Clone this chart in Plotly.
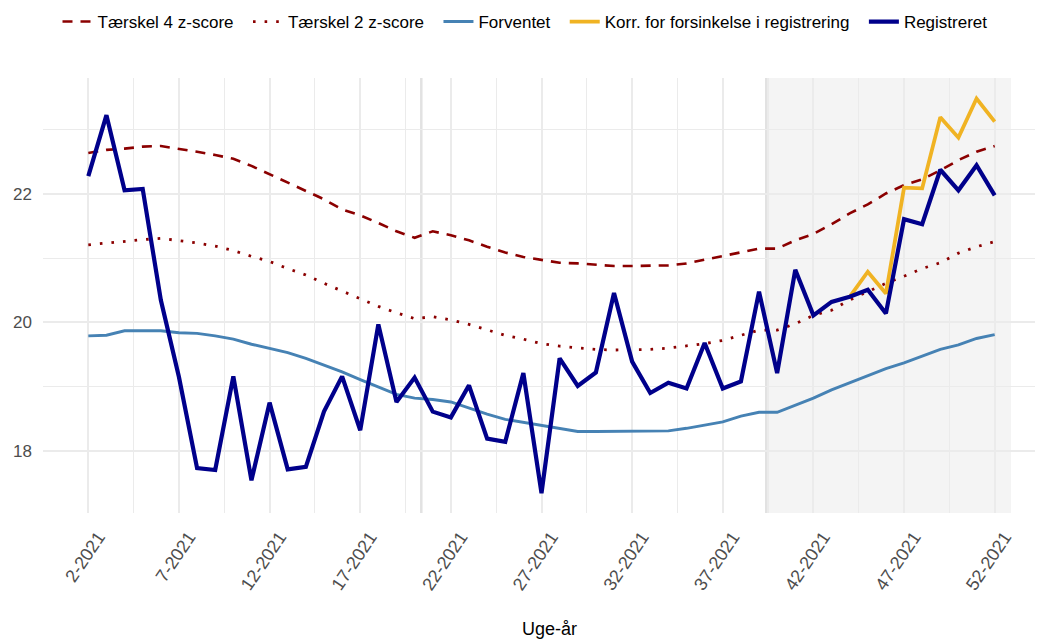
import plotly.graph_objects as go

weeks = list(range(2, 53))
tick_weeks = [2, 7, 12, 17, 22, 27, 32, 37, 42, 47, 52]
tick_labels = [f"{w}-2021" for w in tick_weeks]
minor_weeks = [-0.5, 4.5, 9.5, 14.5, 19.5, 24.5, 29.5, 34.5, 39.5, 44.5, 49.5, 54.5]

registreret = [
    22.28, 23.23, 22.06, 22.08, 20.35, 19.15, 17.73, 17.70, 19.16, 17.54,
    18.75, 17.71, 17.75, 18.61, 19.16, 18.32, 19.97, 18.76, 19.14, 18.61,
    18.52, 19.02, 18.19, 18.14, 19.21, 17.34, 19.44, 19.01, 19.22, 20.46,
    19.39, 18.90, 19.06, 18.97, 19.68, 18.97, 19.08, 20.48, 19.21, 20.82,
    20.11, 20.32, 20.40, 20.51, 20.14, 21.61, 21.53, 22.38, 22.06, 22.45,
    21.98,
]

korr_weeks = [44, 45, 46, 47, 48, 49, 50, 51, 52]
korr = [20.40, 20.79, 20.45, 22.10, 22.09, 23.20, 22.88, 23.49, 23.13]

forventet = [
    19.79, 19.80, 19.87, 19.87, 19.87, 19.84, 19.83, 19.79, 19.74, 19.66,
    19.60, 19.53, 19.44, 19.34, 19.23, 19.11, 18.99, 18.88, 18.82, 18.80,
    18.76, 18.66, 18.57, 18.49, 18.44, 18.40, 18.35, 18.30, 18.30, 18.30,
    18.30, 18.30, 18.31, 18.35, 18.40, 18.45, 18.54, 18.60, 18.60, 18.71,
    18.82, 18.95, 19.06, 19.16, 19.28, 19.37, 19.48, 19.58, 19.65, 19.75,
    19.81,
]

taerskel4 = [
    22.64, 22.69, 22.71, 22.74, 22.75, 22.71, 22.66, 22.61, 22.55, 22.44,
    22.31, 22.19, 22.05, 21.92, 21.76, 21.67, 21.55, 21.42, 21.32, 21.42,
    21.36, 21.28, 21.18, 21.09, 21.02, 20.98, 20.93, 20.92, 20.90, 20.88,
    20.88, 20.88, 20.89, 20.92, 20.98, 21.03, 21.09, 21.15, 21.15, 21.28,
    21.38, 21.53, 21.70, 21.84, 22.01, 22.14, 22.23, 22.37, 22.53, 22.66,
    22.75,
]

taerskel2 = [
    21.21, 21.24, 21.27, 21.29, 21.31, 21.28, 21.24, 21.19, 21.12, 21.03,
    20.95, 20.84, 20.74, 20.61, 20.49, 20.37, 20.25, 20.15, 20.06, 20.09,
    20.04, 19.97, 19.88, 19.80, 19.74, 19.67, 19.63, 19.60, 19.58, 19.57,
    19.57, 19.58, 19.60, 19.63, 19.67, 19.72, 19.80, 19.88, 19.88, 19.98,
    20.11, 20.19, 20.35, 20.48, 20.61, 20.72, 20.84, 20.93, 21.08, 21.18,
    21.26,
]

shade_start, shade_end = 39.4, 52.9
marker_week = 20.37

FONT = "Liberation Sans, Arial, sans-serif"
GRID = "#ebebeb"
PAD = "\u00a0\u00a0"

# the page adds an 8px body margin; size/margins compensate for it
W, H = 1035, 636

fig = go.Figure()
fig.add_trace(go.Scatter(x=weeks, y=taerskel4, mode="lines", name="Tærskel 4 z-score" + PAD,
                         line=dict(color="#8B0000", width=2.6, dash="10px,8px")))
fig.add_trace(go.Scatter(x=weeks, y=taerskel2, mode="lines", name="Tærskel 2 z-score" + PAD,
                         line=dict(color="#8B0000", width=2.8, dash="2.6px,9px")))
fig.add_trace(go.Scatter(x=weeks, y=forventet, mode="lines", name="Forventet" + PAD,
                         line=dict(color="#4682B4", width=2.9)))
fig.add_trace(go.Scatter(x=korr_weeks, y=korr, mode="lines",
                         name="Korr. for forsinkelse i registrering" + PAD,
                         line=dict(color="#F0B323", width=3.8)))
fig.add_trace(go.Scatter(x=weeks, y=registreret, mode="lines", name="Registreret",
                         line=dict(color="#00008B", width=4.2)))

fig.add_shape(type="rect", xref="x", yref="paper", x0=shade_start, x1=shade_end,
              y0=0, y1=1, fillcolor="#f4f4f4", line=dict(width=0), layer="below")
for xv in (marker_week, shade_start):
    fig.add_shape(type="line", xref="x", yref="paper", x0=xv, x1=xv, y0=0, y1=1,
                  line=dict(color="#e2e2e2", width=2.5), layer="below")

fig.add_annotation(text="Uge-år", xref="paper", yref="paper", x=0.508, y=-0.267,
                   xanchor="center", yanchor="middle", showarrow=False,
                   font=dict(family=FONT, size=18, color="#000000"))

fig.update_layout(
    width=W, height=H,
    margin=dict(l=35, r=3, t=70, b=131, autoexpand=False),
    paper_bgcolor="white", plot_bgcolor="white",
    font=dict(family=FONT, color="#000000"),
    showlegend=True,
    legend=dict(orientation="h", xref="container", yref="container",
                x=517 / W, xanchor="center", y=1 - 14 / H, yanchor="middle",
                font=dict(family=FONT, size=17, color="#000000"), itemwidth=30,
                bgcolor="rgba(0,0,0,0)", traceorder="normal"),
    xaxis=dict(range=[-0.5, 54.5], tickmode="array", tickvals=tick_weeks, ticktext=tick_labels,
               tickangle=-56, tickfont=dict(family=FONT, size=18, color="#4d4d4d"),
               ticklabelstandoff=9, ticklabelshift=10, automargin=False,
               showgrid=True, gridcolor=GRID, gridwidth=1.6, zeroline=False, showline=False,
               ticks="", minor=dict(tickvals=minor_weeks, showgrid=True, gridcolor=GRID,
                                    gridwidth=1.2, ticks="")),
    yaxis=dict(range=[17.03, 23.81], tickmode="array", tickvals=[18, 20, 22],
               tickfont=dict(family=FONT, size=17, color="#4d4d4d"), automargin=False,
               ticklabelstandoff=10,
               showgrid=True, gridcolor=GRID, gridwidth=1.8, zeroline=False, showline=False,
               ticks="", minor=dict(tickvals=[17, 19, 21, 23], showgrid=True, gridcolor=GRID,
                                    gridwidth=1.2, ticks="")),
)

fig.write_html("out.html")
